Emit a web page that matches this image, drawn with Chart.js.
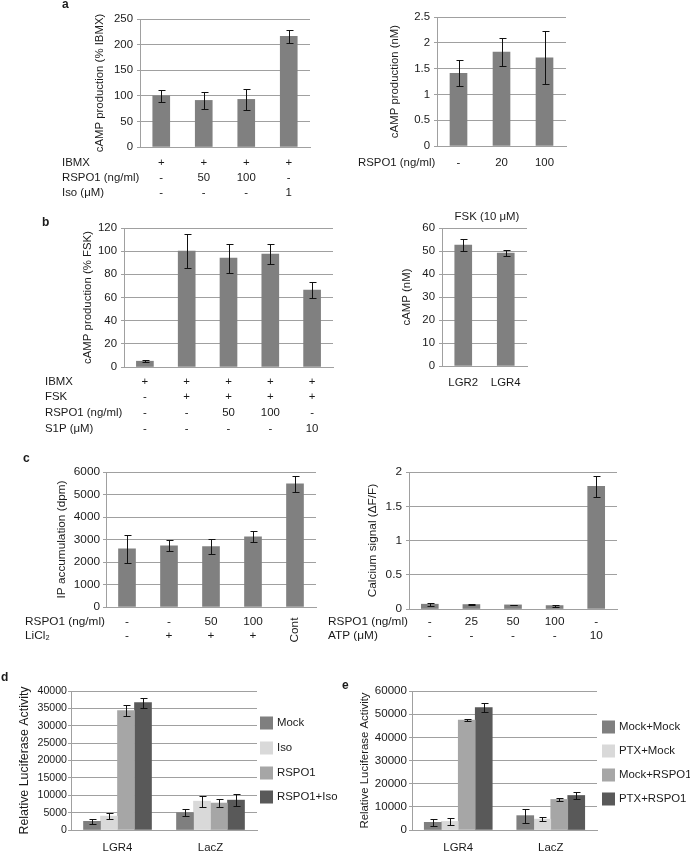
<!DOCTYPE html>
<html>
<head>
<meta charset="utf-8">
<script src="https://cdn.jsdelivr.net/npm/chart.js@4.4.1/dist/chart.umd.min.js"></script>
<style>
body { margin: 0; background: #fff; }
#fig { position: relative; width: 690px; height: 851px; overflow: hidden; background: #fff; }
#fig canvas { position: absolute; }
</style>
</head>
<body>
<div id="fig"></div>
<script>
// ---- panel a ----
var aTicks = [0, 50, 100, 150, 200, 250];
var aCamp = [100, 91, 93, 216];
var aCampErr = [12, 16, 20, 13];
var aRowNames = ['IBMX', 'RSPO1 (ng/ml)', 'Iso (\u03bcM)'];
var aIbmx = ['+', '+', '+', '+'];
var aRspo = ['-', '50', '100', '-'];
var aIso = ['-', '-', '-', '1'];

var a2Ticks = [0, 0.5, 1, 1.5, 2, 2.5];
var a2Rspo = ['-', '20', '100'];
var a2Camp = [1.41, 1.82, 1.71];
var a2CampErr = [0.25, 0.27, 0.51];

// ---- panel b ----
var bTicks = [0, 20, 40, 60, 80, 100, 120];
var bCamp = [5, 100, 94, 97.5, 66.5];
var bCampErr = [0.7, 14.5, 12.5, 9, 7];
var bRowNames = ['IBMX', 'FSK', 'RSPO1 (ng/ml)', 'S1P (\u03bcM)'];
var bIbmx = ['+', '+', '+', '+', '+'];
var bFsk = ['-', '+', '+', '+', '+'];
var bRspo = ['-', '-', '50', '100', '-'];
var bS1p = ['-', '-', '-', '-', '10'];

var b2Ticks = [0, 10, 20, 30, 40, 50, 60];
var b2Cells = ['LGR2', 'LGR4'];
var b2Camp = [52.6, 49.1];
var b2CampErr = [2.5, 1.4];

// ---- panel c ----
var cTicks = [0, 1000, 2000, 3000, 4000, 5000, 6000];
var cIp = [2590, 2720, 2690, 3120, 5470];
var cIpErr = [630, 240, 350, 250, 340];
var cRowNames = ['RSPO1 (ng/ml)', 'LiCl\u2082'];
var cRspo = ['-', '-', '50', '100', ''];
var cLicl = ['-', '+', '+', '+', ''];
var cControl = 'Cont';

var c2Ticks = [0, 0.5, 1, 1.5, 2];
var c2Ca = [0.07, 0.065, 0.06, 0.05, 1.79];
var c2CaErr = [0.02, 0.01, 0.005, 0.015, 0.155];
var c2RowNames = ['RSPO1 (ng/ml)', 'ATP (\u03bcM)'];
var c2Rspo = ['-', '25', '50', '100', '-'];
var c2Atp = ['-', '-', '-', '-', '10'];

// ---- panel d ----
var dTicks = [0, 5000, 10000, 15000, 20000, 25000, 30000, 35000, 40000];
var dGroups = ['LGR4', 'LacZ'];
var dSeries = ['Mock', 'Iso', 'RSPO1', 'RSPO1+Iso'];
var dMock = [2500, 5000], dMockErr = [700, 1000];
var dIso = [4000, 8300], dIsoErr = [850, 1600];
var dRspo = [34400, 7750], dRspoErr = [1650, 1250];
var dRspoIso = [36650, 8600], dRspoIsoErr = [1400, 1800];

// ---- panel e ----
var eTicks = [0, 10000, 20000, 30000, 40000, 50000, 60000];
var eGroups = ['LGR4', 'LacZ'];
var eSeries = ['Mock+Mock', 'PTX+Mock', 'Mock+RSPO1', 'PTX+RSPO1'];
var eMockMock = [3300, 6200], eMockMockErr = [1500, 3000];
var ePtxMock = [3700, 4700], ePtxMockErr = [1500, 800];
var eMockRspo = [47500, 13200], eMockRspoErr = [600, 500];
var ePtxRspo = [52800, 14900], ePtxRspoErr = [2000, 1650];

var FONT = "'Liberation Sans', Arial, Helvetica, sans-serif";
var TXT = '#1a1a1a', GRID = '#a0a0a0', BAR = '#808080';
var SHADES = ['#7f7f7f', '#d9d9d9', '#a6a6a6', '#595959'];
var fig = document.getElementById('fig');
var extras = new Map();

var errorBars = {
    id: 'errorBars',
    afterDatasetsDraw: function (chart) {
        var ctx = chart.ctx, ys = chart.scales.y;
        chart.data.datasets.forEach(function (ds, i) {
            if (!ds.errors) return;
            chart.getDatasetMeta(i).data.forEach(function (bar, j) {
                var v = ds.data[j], e = ds.errors[j];
                var y1 = Math.round(ys.getPixelForValue(v + e)) + 0.5;
                var y2 = Math.round(ys.getPixelForValue(v - e)) + 0.5;
                var x = Math.round(bar.x) + 0.5;
                ctx.save();
                ctx.strokeStyle = '#111';
                ctx.lineWidth = 1;
                ctx.beginPath();
                ctx.moveTo(x, y1); ctx.lineTo(x, y2);
                ctx.moveTo(x - 3, y1); ctx.lineTo(x + 4, y1);
                ctx.moveTo(x - 3, y2); ctx.lineTo(x + 4, y2);
                ctx.stroke();
                ctx.restore();
            });
        });
    }
};

// condition tables, panel letters, legends
var extraText = {
    id: 'extraText',
    afterDraw: function (chart) {
        var ex = extras.get(chart.canvas);
        if (!ex) return;
        var ctx = chart.ctx, xs = chart.scales.x;
        ctx.save();
        ctx.fillStyle = TXT;
        ctx.textBaseline = 'middle';
        (ex.items || []).forEach(function (it) {
            ctx.font = (it.bold ? 'bold ' : '') + (it.size || ex.fs) + 'px ' + FONT;
            ctx.textAlign = it.align || 'left';
            var x = it.col !== undefined ? xs.getPixelForValue(it.col) : it.x - ex.ox;
            var y = it.y - ex.oy;
            if (it.rot) {
                ctx.save();
                ctx.translate(x, y);
                ctx.rotate(it.rot * Math.PI / 180);
                ctx.fillText(it.text, 0, 0);
                ctx.restore();
            } else {
                ctx.fillText(it.text, x, y);
            }
        });
        ctx.font = ex.fs + 'px ' + FONT;
        ctx.textAlign = 'center';
        (ex.rows || []).forEach(function (row, k) {
            row.forEach(function (v, j) {
                ctx.fillText(v, xs.getPixelForValue(j), ex.rowY[k] - ex.oy);
            });
        });
        if (ex.legend) {
            var lg = ex.legend;
            ctx.textAlign = 'left';
            chart.data.datasets.forEach(function (ds, i) {
                ctx.fillStyle = ds.backgroundColor;
                ctx.fillRect(lg.boxX - ex.ox, lg.ys[i] - ex.oy - 6.5, 13, 13);
                ctx.fillStyle = TXT;
                ctx.fillText(ds.label, lg.textX - ex.ox, lg.ys[i] - ex.oy);
            });
        }
        ctx.restore();
    }
};

function panel(o) {
    var bx = o.box[0], by = o.box[1], bw = o.box[2], bh = o.box[3];
    var l = o.plot[0], t = o.plot[1], r = o.plot[2], b = o.plot[3];
    var cv = document.createElement('canvas');
    cv.width = bw; cv.height = bh;
    cv.style.left = bx + 'px'; cv.style.top = by + 'px';
    cv.style.width = bw + 'px'; cv.style.height = bh + 'px';
    fig.appendChild(cv);
    o.extra.ox = bx; o.extra.oy = by; o.extra.fs = o.fs;
    extras.set(cv, o.extra);
    var tfs = o.tfs || o.fs;
    var half = tfs * 1.2 / 2;
    var axisLeft = o.titleX - half;
    var xH = o.xLabels ? b === 0 ? 0 : o.xH : 0;
    var ticks = o.ticks;
    return new Chart(cv, {
        type: 'bar',
        data: { labels: o.labels, datasets: o.datasets },
        options: {
            responsive: false,
            animation: false,
            events: [],
            devicePixelRatio: 1,
            layout: { padding: { left: axisLeft - bx, top: t - by, right: bx + bw - r, bottom: by + bh - b - xH } },
            plugins: { legend: { display: false }, tooltip: { enabled: false } },
            scales: {
                x: {
                    grid: { display: false, drawTicks: false },
                    border: { color: GRID },
                    ticks: { display: !!o.xLabels, color: TXT, font: { family: FONT, size: o.fs }, padding: o.xPad || 10, maxRotation: 0 },
                    afterFit: function (s) { s.height = xH; }
                },
                y: {
                    min: ticks[0],
                    max: ticks[ticks.length - 1],
                    ticks: {
                        stepSize: ticks[1] - ticks[0],
                        color: TXT,
                        font: { family: FONT, size: o.tickFs || o.fs },
                        padding: o.yPad || 4,
                        callback: function (v) { return String(v); }
                    },
                    grid: { color: GRID, tickLength: 3 },
                    border: { color: GRID },
                    title: { display: true, text: o.yTitle, color: TXT, font: { family: FONT, size: tfs, lineHeight: 1.2 }, padding: 0 },
                    afterFit: function (s) { s.width = l - axisLeft; }
                }
            }
        },
        plugins: [errorBars, extraText]
    });
}

function single(data, errors) {
    return [{ data: data, errors: errors, backgroundColor: BAR, barThickness: 17 }];
}

function grouped(names, values, errors) {
    return names.map(function (n, i) {
        return { label: n, data: values[i], errors: errors[i], backgroundColor: SHADES[i], barThickness: 17 };
    });
}

// a, left
panel({
    box: [0, 0, 345, 200], plot: [140, 19, 310, 147], titleX: 100, fs: 11.4,
    yTitle: 'cAMP production (% IBMX)', ticks: aTicks,
    labels: aIbmx.map(function (v, i) { return [v, aRspo[i], aIso[i]].join(' '); }),
    datasets: single(aCamp, aCampErr),
    extra: {
        rows: [aIbmx, aRspo, aIso], rowY: [163, 178, 193],
        items: [
            { text: 'a', x: 62, y: 5, bold: true, size: 12 },
            { text: aRowNames[0], x: 62, y: 163 },
            { text: aRowNames[1], x: 62, y: 178 },
            { text: aRowNames[2], x: 62, y: 193 }
        ]
    }
});

// a, right
panel({
    box: [345, 0, 345, 200], plot: [437, 17, 566, 146], titleX: 395, fs: 11.4,
    yTitle: 'cAMP production (nM)', ticks: a2Ticks,
    labels: a2Rspo,
    datasets: single(a2Camp, a2CampErr),
    extra: {
        rows: [a2Rspo], rowY: [163],
        items: [{ text: 'RSPO1 (ng/ml)', x: 358, y: 163 }]
    }
});

// b, left
panel({
    box: [0, 200, 345, 240], plot: [124, 228, 333, 367], titleX: 88, fs: 11.4,
    yTitle: 'cAMP production (% FSK)', ticks: bTicks,
    labels: bIbmx.map(function (v, i) { return [v, bFsk[i], bRspo[i], bS1p[i]].join(' '); }),
    datasets: single(bCamp, bCampErr),
    extra: {
        rows: [bIbmx, bFsk, bRspo, bS1p], rowY: [382, 397, 413, 429],
        items: [
            { text: 'b', x: 42, y: 223, bold: true, size: 12 },
            { text: bRowNames[0], x: 45, y: 382 },
            { text: bRowNames[1], x: 45, y: 397 },
            { text: bRowNames[2], x: 45, y: 413 },
            { text: bRowNames[3], x: 45, y: 429 }
        ]
    }
});

// b, right
panel({
    box: [345, 200, 345, 240], plot: [442, 228, 527, 366], titleX: 407, fs: 11.4,
    yTitle: 'cAMP (nM)', ticks: b2Ticks,
    labels: b2Cells, xLabels: true, xH: 30, xPad: 10,
    datasets: single(b2Camp, b2CampErr),
    extra: {
        items: [{ text: 'FSK (10 \u03bcM)', x: 487, y: 217, align: 'center' }]
    }
});

// c, left
panel({
    box: [0, 440, 345, 215], plot: [106, 472, 316, 607], titleX: 62, fs: 11.8,
    yTitle: 'IP accumulation (dpm)', ticks: cTicks, yPad: 3,
    labels: cRspo.map(function (v, i) { return i === 4 ? cControl : v + ' ' + cLicl[i]; }),
    datasets: single(cIp, cIpErr),
    extra: {
        rows: [cRspo, cLicl], rowY: [622, 636],
        items: [
            { text: 'c', x: 23, y: 459, bold: true, size: 12 },
            { text: cRowNames[0], x: 25, y: 622 },
            { text: cRowNames[1], x: 25, y: 636 },
            { text: cControl, col: 4, y: 630, rot: -90, align: 'center' }
        ]
    }
});

// c, right
panel({
    box: [325, 440, 365, 215], plot: [409, 472, 617, 609], titleX: 373, fs: 11.8,
    yTitle: 'Calcium signal (\u0394F/F)', ticks: c2Ticks,
    labels: c2Rspo.map(function (v, i) { return v + ' ' + c2Atp[i]; }),
    datasets: single(c2Ca, c2CaErr),
    extra: {
        rows: [c2Rspo, c2Atp], rowY: [622, 636],
        items: [
            { text: c2RowNames[0], x: 328, y: 622 },
            { text: c2RowNames[1], x: 328, y: 636 }
        ]
    }
});

// d
panel({
    box: [0, 650, 345, 201], plot: [71, 691, 257, 830], titleX: 25, fs: 11.4, tickFs: 10.6, tfs: 12.4,
    yTitle: 'Relative Luciferase Activity', ticks: dTicks, yPad: 1,
    labels: dGroups, xLabels: true, xH: 21, xPad: 11,
    datasets: grouped(dSeries, [dMock, dIso, dRspo, dRspoIso], [dMockErr, dIsoErr, dRspoErr, dRspoIsoErr]),
    extra: {
        legend: { boxX: 260, textX: 277, ys: [723, 748, 773, 797] },
        items: [{ text: 'd', x: 1, y: 678, bold: true, size: 12 }]
    }
});

// e
panel({
    box: [330, 650, 360, 201], plot: [412, 691, 597, 830], titleX: 365, fs: 11.4, tickFs: 11.6,
    yTitle: 'Relative Luciferase Activity', ticks: eTicks, yPad: 2,
    labels: eGroups, xLabels: true, xH: 21, xPad: 11,
    datasets: grouped(eSeries, [eMockMock, ePtxMock, eMockRspo, ePtxRspo], [eMockMockErr, ePtxMockErr, eMockRspoErr, ePtxRspoErr]),
    extra: {
        legend: { boxX: 602, textX: 619, ys: [727, 751, 775, 799] },
        items: [{ text: 'e', x: 342, y: 686, bold: true, size: 12 }]
    }
});
</script>
</body>
</html>
